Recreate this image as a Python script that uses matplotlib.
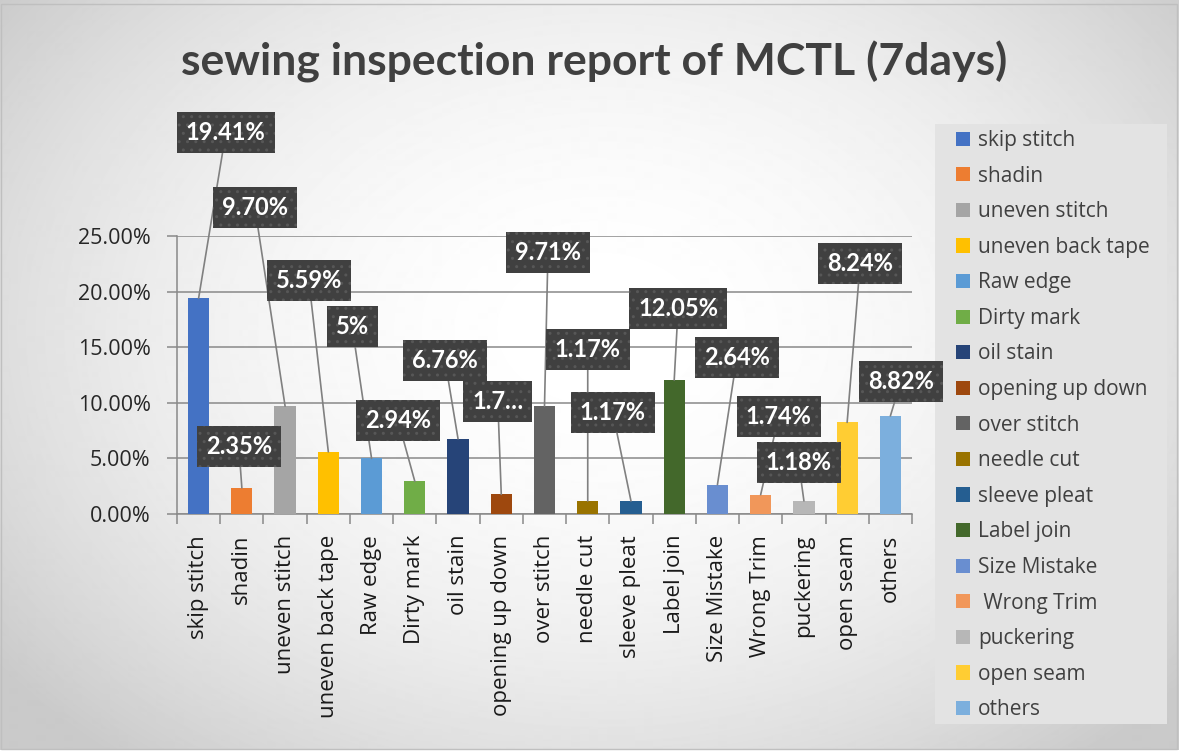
import numpy as np
import matplotlib
matplotlib.use("Agg")
import matplotlib.pyplot as plt
from matplotlib.patches import Patch, Rectangle

categories = ["skip stitch", "shadin", "uneven stitch", "uneven back tape", "Raw edge",
              "Dirty mark", "oil stain", "opening up down", "over stitch", "needle cut",
              "sleeve pleat", "Label join", "Size Mistake", " Wrong Trim", "puckering",
              "open seam", "others"]
values = [19.41, 2.35, 9.70, 5.59, 5.00, 2.94, 6.76, 1.76, 9.71, 1.17,
          1.17, 12.05, 2.64, 1.74, 1.18, 8.24, 8.82]
value_labels = ["19.41%", "2.35%", "9.70%", "5.59%", "5%", "2.94%", "6.76%", "1.7…",
                "9.71%", "1.17%", "1.17%", "12.05%", "2.64%", "1.74%", "1.18%",
                "8.24%", "8.82%"]
colors = ["#4472C4", "#ED7D31", "#A5A5A5", "#FFC000", "#5B9BD5", "#70AD47", "#264478",
          "#9E480E", "#636363", "#997300", "#255E91", "#43682B", "#698ED0", "#F1975A",
          "#B7B7B7", "#FFCD33", "#7CAFDD"]
yticks = [0, 5, 10, 15, 20, 25]

# where the data label boxes sit (x in bar units, y in percent)
label_pos = [(0.63, 34.3), (0.93, 6.1), (1.30, 27.6), (2.55, 21.0), (3.55, 16.9),
             (4.61, 8.45), (5.70, 13.8), (6.92, 10.1), (8.08, 23.5), (9.00, 14.8),
             (9.58, 9.1), (11.09, 18.5), (12.45, 14.1), (13.42, 8.8), (13.88, 4.6),
             (15.30, 22.5), (16.24, 11.9)]

W, H = 1179, 751
fig = plt.figure(figsize=(W / 100, H / 100), dpi=100)

# radial grey background
bg = fig.add_axes([0, 0, 1, 1], zorder=-10)
yy, xx = np.mgrid[0:H, 0:W]
r2 = ((xx - 600) / 700.0) ** 2 + ((yy - 330) / 520.0) ** 2
shade = np.clip(1.0 - 0.18 * r2, 0.79, 1.0)
bg.imshow(shade, cmap="gray", vmin=0, vmax=1, aspect="auto", interpolation="bilinear")
bg.add_patch(Rectangle((1, 4), W - 3, H - 6, fill=False, edgecolor="#bfbfbf", lw=1))
# legend panel
bg.add_patch(Rectangle((935, 124), 232, 600, facecolor="#e3e3e3", edgecolor="none"))
bg.set_xlim(0, W)
bg.set_ylim(H, 0)
bg.set_axis_off()

ax = fig.add_axes([177 / W, 1 - 514 / H, 735 / W, 278 / H])
ax.set_facecolor("none")

x = np.arange(len(categories))
ax.bar(x, values, width=0.49, color=colors, zorder=3)

ax.set_xlim(-0.5, len(categories) - 0.5)
ax.set_ylim(0, 25)
ax.set_yticks(yticks)
ax.set_yticklabels([f"{t:.2f}%" for t in yticks], family=["Open Sans", "DejaVu Sans"],
                   fontsize=15.5, color="#262626")
ax.set_xticks(x)
ax.set_xticklabels(categories, rotation=90, family=["Open Sans", "DejaVu Sans"],
                   fontsize=16, color="#1a1a1a")
ax.set_xticks(np.arange(-0.5, len(categories)), minor=True)
ax.tick_params(axis="x", which="major", length=0, pad=15)
ax.tick_params(axis="x", which="minor", length=7, width=1.1, color="#898989")
ax.tick_params(axis="y", length=7, width=1.1, color="#898989", pad=12)
ax.yaxis.grid(True, color="#898989", lw=1.1, zorder=1)
ax.set_axisbelow(True)
for s in ["top", "right"]:
    ax.spines[s].set_visible(False)
for s in ["left", "bottom"]:
    ax.spines[s].set_color("#898989")
    ax.spines[s].set_linewidth(1.1)

for i, (v, lab, pos) in enumerate(zip(values, value_labels, label_pos)):
    ax.annotate(lab, xy=(i, v), xytext=pos, textcoords="data",
                ha="center", va="center", fontsize=17, fontweight="bold",
                family=["Lato", "DejaVu Sans"], color="white", zorder=6,
                annotation_clip=False,
                bbox=dict(boxstyle="square,pad=0.38", facecolor="#404040",
                          edgecolor="#575757", lw=0, hatch=".."),
                arrowprops=dict(arrowstyle="-", color="#808080", lw=1.2,
                                shrinkA=0, shrinkB=0))

fig.text(0.504, 1 - 62 / H, "sewing inspection report of MCTL (7days)",
         ha="center", va="center", fontsize=32, fontweight="bold",
         family=["Lato", "DejaVu Sans"], color="#404040")

handles = [Patch(facecolor=c, edgecolor="none") for c in colors]
leg = fig.legend(handles, categories, loc="upper left",
                 bbox_to_anchor=(956 / W, 1 - 130 / H),
                 borderaxespad=0, borderpad=0,
                 prop={"family": ["Open Sans", "DejaVu Sans"], "size": 15},
                 labelspacing=0.70, handlelength=0.67, handleheight=0.67,
                 handletextpad=0.38, frameon=False)
for t in leg.get_texts():
    t.set_color("#404040")

fig.savefig("out.png", dpi=100)
